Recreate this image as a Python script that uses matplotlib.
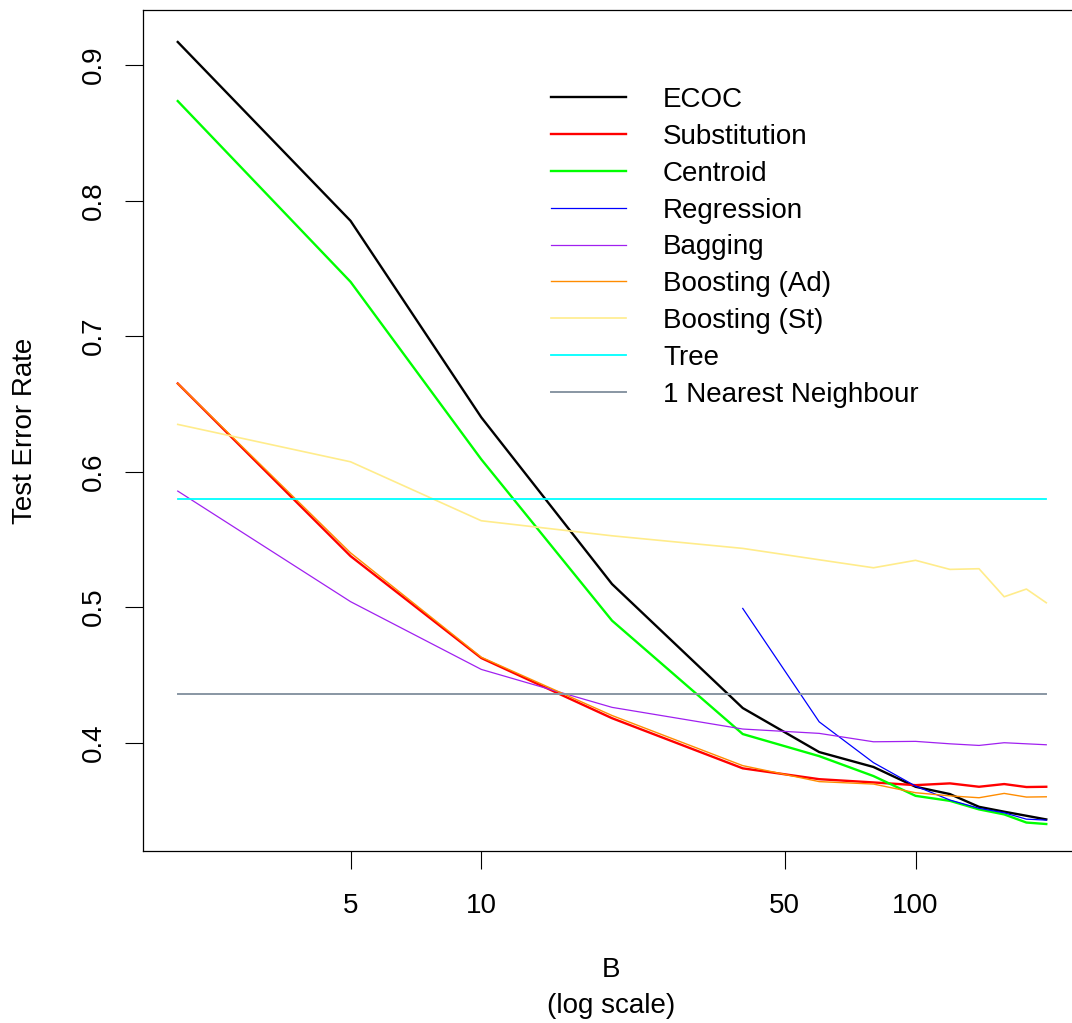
import matplotlib
matplotlib.use("Agg")
import matplotlib.pyplot as plt

plt.rcParams['font.family'] = ['Liberation Sans', 'DejaVu Sans']

B = [2, 5, 10, 20, 40, 60, 80, 100, 120, 140, 160, 180, 200]

ecoc = [0.917, 0.785, 0.640, 0.517, 0.4255, 0.393, 0.382, 0.3674, 0.362, 0.3526, 0.349, 0.346, 0.3433]
substitution = [0.665, 0.5376, 0.4624, 0.418, 0.381, 0.373, 0.3706, 0.3686, 0.3699, 0.3674, 0.3694, 0.3672, 0.3674]
centroid = [0.8734, 0.740, 0.609, 0.490, 0.4063, 0.390, 0.3753, 0.3607, 0.357, 0.3507, 0.347, 0.341, 0.3399]
B_regression = [40, 60, 80, 100, 120, 140, 160, 180, 200]
regression = [0.499, 0.4153, 0.3852, 0.3679, 0.3576, 0.3515, 0.3482, 0.3435, 0.3428]
bagging = [0.5856, 0.504, 0.454, 0.426, 0.410, 0.4068, 0.4006, 0.4009, 0.3991, 0.3979, 0.3999, 0.3991, 0.3984]
boost_ad = [0.665, 0.540, 0.463, 0.420, 0.383, 0.3712, 0.3694, 0.363, 0.3607, 0.3593, 0.3625, 0.3598, 0.360]
boost_st = [0.6348, 0.6072, 0.5637, 0.5526, 0.5433, 0.5349, 0.529, 0.5345, 0.5278, 0.5283, 0.5076, 0.5133, 0.5032]
tree = 0.580
nn1 = 0.436

fs = 20

fig = plt.figure(figsize=(10.72, 10.23), dpi=100)
ax = fig.add_axes([143/1072, 1 - 851/1023, (1081 - 143)/1072, (851 - 10)/1023])

ax.plot(B, ecoc, color='black', lw=1.7, label='ECOC')
ax.plot(B, substitution, color='red', lw=1.7, label='Substitution')
ax.plot(B, centroid, color='#00FF00', lw=1.7, label='Centroid')
ax.plot(B_regression, regression, color='blue', lw=0.9, label='Regression')
ax.plot(B, bagging, color='#A020F0', lw=0.9, label='Bagging')
ax.plot(B, boost_ad, color='darkorange', lw=1.0, label='Boosting (Ad)')
ax.plot(B, boost_st, color='#FFEC8B', lw=1.2, label='Boosting (St)')
ax.plot([B[0], B[-1]], [tree, tree], color='cyan', lw=1.3, label='Tree')
ax.plot([B[0], B[-1]], [nn1, nn1], color='#8896A3', lw=1.4, label='1 Nearest Neighbour')

ax.set_xscale('log')
ax.set_xlim(10**0.221, 10**2.381)
ax.set_ylim(0.320, 0.9406)
ax.set_xticks([5, 10, 50, 100])
ax.set_xticklabels(['5', '10', '50', '100'])
ax.minorticks_off()
ax.set_yticks([0.4, 0.5, 0.6, 0.7, 0.8, 0.9])
ax.set_yticklabels(['0.4', '0.5', '0.6', '0.7', '0.8', '0.9'], rotation=90, va='center')
ax.tick_params(axis='both', length=13, width=0.8, labelsize=fs)
ax.tick_params(axis='x', pad=17)
ax.tick_params(axis='y', pad=13)
for s in ax.spines.values():
    s.set_linewidth(0.9)

fig.text(611/1072, 1 - 970/1023, 'B', ha='center', va='center', fontsize=fs)
fig.text(611/1072, 1 - 1006/1023, '(log scale)', ha='center', va='center', fontsize=fs)
fig.text(25/1072, 1 - 431/1023, 'Test Error Rate', ha='center', va='center', rotation=90, fontsize=fs)

ax.legend(loc='upper left', bbox_to_anchor=(551/1072, 1 - 87/1023), bbox_transform=fig.transFigure,
          frameon=False, fontsize=fs, handlelength=2.7, handletextpad=1.33, labelspacing=0.39,
          borderpad=0, borderaxespad=0)

fig.savefig('out.png', dpi=100)
